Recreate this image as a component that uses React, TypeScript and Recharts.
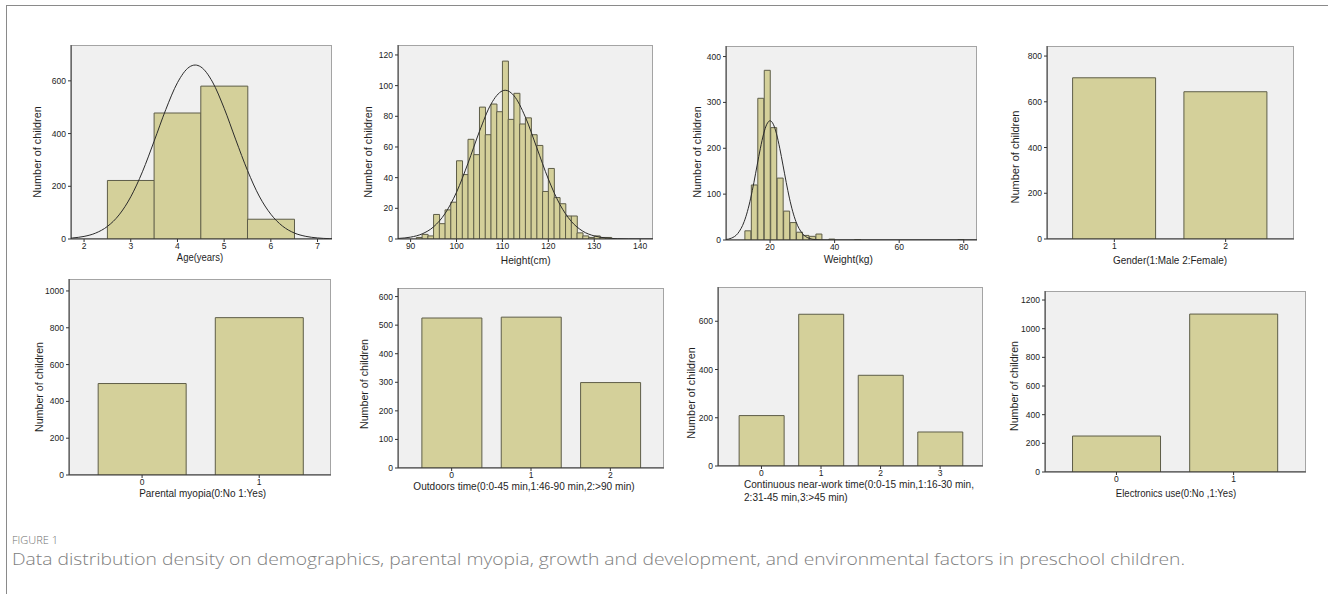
import React from 'react';
import { ComposedChart, Bar, Line, XAxis, YAxis } from 'recharts';

// ---------- data ----------
// Age (years) histogram
const ageBins = [3, 4, 5, 6];
const ageCounts = [222, 478, 580, 75];
const ageCurveX = [1.72, 1.75, 2, 2.25, 2.5, 2.75, 3, 3.25, 3.5, 3.75, 4, 4.25, 4.38, 4.5, 4.75, 5, 5.25, 5.5, 5.75, 6, 6.25, 6.5, 6.75, 7, 7.25, 7.31];
const ageCurveY = [3.4, 3.9, 9.8, 22.6, 47.7, 91.5, 160, 255, 371, 491, 593, 652, 660, 653, 596, 496, 376, 260, 163, 94, 49, 23, 10, 4, 1.4, 1.1];
const ageTicks = [2, 3, 4, 5, 6, 7];

// Height (cm) histogram, bins of 1.25 cm
const heightBins = [90.625, 91.875, 93.125, 94.375, 95.625, 96.875, 98.125, 99.375, 100.625, 101.875, 103.125, 104.375, 105.625, 106.875, 108.125, 109.375, 110.625, 111.875, 113.125, 114.375, 115.625, 116.875, 118.125, 119.375, 120.625, 121.875, 123.125, 124.375, 125.625, 126.875, 128.125, 129.375, 130.625, 131.875, 133.125, 134.375];
const heightCounts = [0, 1, 3, 2, 16, 10, 19, 24, 51, 42, 65, 55, 86, 68, 88, 83, 116, 78, 95, 75, 79, 68, 61, 31, 46, 27, 23, 15, 15, 4, 2, 1, 2, 1, 1, 0];
const heightCurveX = [87.25, 87.5, 90, 92.5, 95, 97.5, 100, 102.5, 105, 107.5, 110, 110.6, 112.5, 115, 117.5, 120, 122.5, 125, 127.5, 130, 132.5, 135, 137.5, 140, 142.8];
const heightCurveY = [0.35, 0.4, 1.23, 3.33, 7.93, 16.6, 30.5, 49.4, 70.2, 87.9, 96.6, 97, 93.5, 79.5, 59.4, 39.1, 22.6, 11.5, 5.1, 2.0, 0.7, 0.21, 0.05, 0.01, 0];
const heightTicks = [90, 100, 110, 120, 130, 140];

// Weight (kg) histogram, bins of 2 kg
const weightBins = [13.2, 15.2, 17.2, 19.2, 21.2, 23.2, 25.2, 27.2, 29.2, 31.2, 33.2, 35.2, 37.2, 39.2, 41.2, 43.2, 45.2, 47.2, 49.2, 51.2, 53.2, 55.2, 57.2, 59.2, 61.2, 63.2, 65.2, 67.2, 69.2, 71.2, 73.2, 75.2, 77.2, 79.2];
const weightCounts = [20, 120, 309, 370, 245, 135, 63, 38, 17, 10, 8, 13, 0, 2, 0, 0, 0, 1, 0, 0, 0, 0, 0, 0, 0, 0, 0, 0, 0, 0, 0, 0, 0, 1];
const weightCurveX = [6.35, 8, 10, 12, 13, 14, 15, 16, 17, 18, 19, 20, 21, 22, 23, 24, 25, 26, 27, 28, 30, 32, 34, 36, 40, 84.1];
const weightCurveY = [1.15, 3.96, 14.2, 40.5, 62.6, 91.3, 125.7, 163.3, 200, 231.4, 252.5, 260, 252.5, 231.4, 200, 163.3, 125.7, 91.3, 62.6, 40.5, 14.2, 3.96, 0.87, 0.15, 0, 0];
const weightTicks = [20, 40, 60, 80];

// Gender
const genderCats = [1, 2];
const genderCounts = [705, 644];

// Parental myopia
const myopiaCats = [0, 1];
const myopiaCounts = [497, 855];

// Outdoors time
const outdoorCats = [0, 1, 2];
const outdoorCounts = [525, 528, 299];

// Continuous near-work time
const nearCats = [0, 1, 2, 3];
const nearCounts = [209, 629, 376, 141];

// Electronics use
const elecCats = [0, 1];
const elecCounts = [251, 1102];

// ---------- styling ----------
const FONT = "'Liberation Sans', Arial, sans-serif";
const BAR_FILL = '#d4d09a';
const BAR_STROKE = '#5e5d48';
const PLOT_BG = '#f0f0f0';
const AXIS = '#333333';

type PanelProps = {
  x: number; y: number; w: number; h: number;
  xDomain: [number, number]; xTicks: number[];
  yMax: number; yTicks: number[];
  barX: number[]; barY: number[];
  gap: string | number;
  curveX?: number[]; curveY?: number[];
};

function Panel(p: PanelProps) {
  const YW = 34;
  const XH = 16;
  const data = p.barX.map((v, i) => ({ x: v, n: p.barY[i] }));
  const curve = p.curveX ? p.curveX.map((v, i) => ({ x: v, d: (p.curveY as number[])[i] })) : null;
  return (
    <>
      <div style={{ position: 'absolute', left: p.x, top: p.y, width: p.w, height: p.h, background: PLOT_BG, boxSizing: 'border-box', border: '1px solid #a4a4a4' }} />
      <div style={{ position: 'absolute', left: p.x - YW, top: p.y }}>
        <ComposedChart width={p.w + YW} height={p.h + XH} data={data} margin={{ top: 0, right: 0, bottom: 0, left: 0 }} barCategoryGap={p.gap} barGap={0}>
          <XAxis xAxisId="b" dataKey="x" type="number" domain={p.xDomain} allowDataOverflow ticks={p.xTicks} interval={0}
            tickSize={3} tickMargin={1} height={XH} stroke={AXIS} tickLine={{ stroke: AXIS }}
            tick={{ fontSize: 8.5, fill: '#222', fontFamily: FONT }} />
          {curve && <XAxis xAxisId="c" dataKey="x" type="number" domain={p.xDomain} allowDataOverflow hide />}
          <YAxis type="number" domain={[0, p.yMax]} allowDataOverflow ticks={p.yTicks} interval={0}
            tickSize={3} tickMargin={2} width={YW} stroke={AXIS} tickLine={{ stroke: AXIS }}
            tick={{ fontSize: 8.5, fill: '#222', fontFamily: FONT }} />
          <Bar xAxisId="b" dataKey="n" fill={BAR_FILL} stroke={BAR_STROKE} strokeWidth={1} isAnimationActive={false} />
          {curve && (
            <Line xAxisId="c" data={curve} dataKey="d" type="monotone" dot={false} activeDot={false}
              stroke="#2b2b2b" strokeWidth={1} isAnimationActive={false} />
          )}
        </ComposedChart>
      </div>
    </>
  );
}

function XTitle({ x, y, len, text }: { x: number; y: number; len: number; text: string }) {
  return (
    <text x={x} y={y} textAnchor="middle" dominantBaseline="central" fontSize={10.5} fontFamily={FONT}
      textLength={len} lengthAdjust="spacingAndGlyphs" fill="#1e1e1e">{text}</text>
  );
}

function YTitle({ x, y, len }: { x: number; y: number; len: number }) {
  return (
    <text transform={`translate(${x},${y}) rotate(-90)`} textAnchor="middle" dominantBaseline="central" fontSize={10.5}
      fontFamily={FONT} textLength={len} lengthAdjust="spacingAndGlyphs" fill="#1e1e1e">Number of children</text>
  );
}

export default function App() {
  return (
    <div style={{ position: 'absolute', left: 0, top: 0, width: 1328, height: 594, background: '#fff', overflow: 'hidden', fontFamily: FONT }}>
      <div style={{ position: 'absolute', left: 6, top: 5, width: 1340, height: 620, borderTop: '1.5px solid #8a8a8a', borderLeft: '1.5px solid #8a8a8a' }} />

      <Panel x={71} y={45} w={261} h={194} xDomain={[1.72, 7.31]} xTicks={ageTicks} yMax={736} yTicks={[0, 200, 400, 600]}
        barX={ageBins} barY={ageCounts} gap={0} curveX={ageCurveX} curveY={ageCurveY} />
      <Panel x={398} y={45} w={255} h={194} xDomain={[87.25, 142.8]} xTicks={heightTicks} yMax={126.5} yTicks={[0, 20, 40, 60, 80, 100, 120]}
        barX={heightBins} barY={heightCounts} gap={0} curveX={heightCurveX} curveY={heightCurveY} />
      <Panel x={726} y={46} w={251} h={194} xDomain={[6.35, 84.1]} xTicks={weightTicks} yMax={423} yTicks={[0, 100, 200, 300, 400]}
        barX={weightBins} barY={weightCounts} gap={0} curveX={weightCurveX} curveY={weightCurveY} />
      <Panel x={1047} y={46} w={247} h={193} xDomain={[0.395, 2.614]} xTicks={genderCats} yMax={844} yTicks={[0, 200, 400, 600, 800]}
        barX={genderCats} barY={genderCounts} gap="12.5%" />

      <Panel x={69} y={279} w={262} h={196} xDomain={[-0.624, 1.613]} xTicks={myopiaCats} yMax={1065} yTicks={[0, 200, 400, 600, 800, 1000]}
        barX={myopiaCats} barY={myopiaCounts} gap="12.5%" />
      <Panel x={398} y={288} w={266} h={180} xDomain={[-0.676, 2.676]} xTicks={outdoorCats} yMax={630} yTicks={[0, 100, 200, 300, 400, 500, 600]}
        barX={outdoorCats} barY={outdoorCounts} gap="12.5%" />
      <Panel x={718} y={287} w={265} h={179} xDomain={[-0.73, 3.72]} xTicks={nearCats} yMax={742} yTicks={[0, 200, 400, 600]}
        barX={nearCats} barY={nearCounts} gap="12.5%" />
      <Panel x={1045} y={291} w={261} h={181} xDomain={[-0.61, 1.618]} xTicks={elecCats} yMax={1263} yTicks={[0, 200, 400, 600, 800, 1000, 1200]}
        barX={elecCats} barY={elecCounts} gap="12.5%" />

      <svg width={1328} height={594} style={{ position: 'absolute', left: 0, top: 0, pointerEvents: 'none' }}>
        <YTitle x={37} y={152} len={91.5} />
        <YTitle x={368} y={152} len={91.5} />
        <YTitle x={697} y={152} len={91.5} />
        <YTitle x={1015} y={157} len={93} />
        <YTitle x={38.5} y={387} len={90} />
        <YTitle x={364} y={384} len={90} />
        <YTitle x={691} y={393} len={91.5} />
        <YTitle x={1013.5} y={386} len={90} />

        <XTitle x={200} y={257} len={46.3} text="Age(years)" />
        <XTitle x={525.7} y={260} len={49.7} text="Height(cm)" />
        <XTitle x={848.3} y={259.3} len={49.3} text="Weight(kg)" />
        <XTitle x={1170} y={260} len={114} text="Gender(1:Male  2:Female)" />
        <XTitle x={202.7} y={493.3} len={127} text="Parental myopia(0:No  1:Yes)" />
        <XTitle x={524} y={486} len={221.3} text="Outdoors time(0:0-45 min,1:46-90 min,2:>90 min)" />
        <text x={744} y={484} dominantBaseline="central" fontSize={10.5} fontFamily={FONT} textLength={230} lengthAdjust="spacingAndGlyphs" fill="#1e1e1e">Continuous near-work time(0:0-15 min,1:16-30 min,</text>
        <text x={744} y={496.7} dominantBaseline="central" fontSize={10.5} fontFamily={FONT} textLength={103.7} lengthAdjust="spacingAndGlyphs" fill="#1e1e1e">2:31-45 min,3:&gt;45 min)</text>
        <XTitle x={1176} y={493.3} len={120.3} text="Electronics use(0:No ,1:Yes)" />

        <text x={12} y={540} dominantBaseline="central" fontSize={10.5} fontFamily="'Open Sans', sans-serif" fontWeight={300} textLength={46} lengthAdjust="spacingAndGlyphs" fill="#6e6e6e">FIGURE 1</text>
        <text x={12} y={559} dominantBaseline="central" fontSize={16} fontFamily="'Open Sans', sans-serif" fontWeight={300} textLength={1173} lengthAdjust="spacingAndGlyphs" fill="#808080">Data distribution density on demographics, parental myopia, growth and development, and environmental factors in preschool children.</text>
      </svg>
    </div>
  );
}
